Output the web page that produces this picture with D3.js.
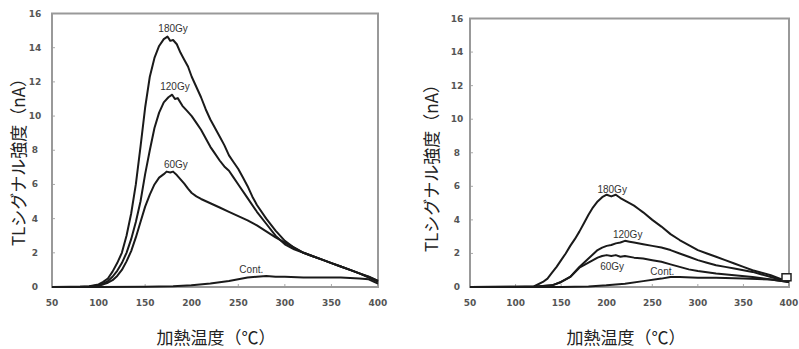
<!DOCTYPE html>
<html>
<head>
    <meta charset="utf-8">
    <title>TL glow curves</title>
    <style>
        body { margin: 0; background: #fff; }
        .tick-label { font-family: "DejaVu Sans", sans-serif; font-size: 9px; font-weight: bold; fill: #555; }
        .axis-title { font-family: "Noto Sans CJK JP", sans-serif; font-size: 17px; fill: #222; }
        .dose-label { font-family: "Liberation Sans", sans-serif; font-size: 10px; fill: #333; }
        .curve { fill: none; stroke: #1a1a1a; stroke-width: 2; stroke-linejoin: round; }
        .frame { fill: none; stroke: #999; stroke-width: 2; }
    </style>
</head>
<body>
    <div id="chart"></div>
    <script src="https://d3js.org/d3.v7.min.js"></script>
    <script>
        // tick labels shared by both panels
        const xTicks = [50, 100, 150, 200, 250, 300, 350, 400];
        const yTicks = [0, 2, 4, 6, 8, 10, 12, 14, 16];
        const xTitle = "加熱温度（℃）";
        const yTitle = "TLシグナル強度（nA）";

        // left panel series: [temperature, signal nA]
        const left180 = [[50,0],[80,0.02],[90,0.05],[100,0.15],[105,0.3],[110,0.5],[115,0.9],[120,1.4],[125,2.0],[130,3.0],[135,4.3],[140,6.0],[145,8.2],[150,10.5],[155,12.3],[160,13.4],[165,14.1],[170,14.5],[174,14.65],[177,14.4],[180,14.45],[184,14.2],[188,13.7],[192,13.3],[196,12.9],[200,12.3],[205,11.7],[210,11.1],[215,10.4],[220,9.8],[225,9.3],[230,8.8],[235,8.3],[240,7.7],[245,7.3],[250,6.9],[255,6.4],[260,5.9],[265,5.3],[270,4.8],[280,4.0],[290,3.3],[300,2.7],[310,2.3],[320,2.0],[330,1.8],[340,1.6],[350,1.4],[360,1.2],[370,1.0],[380,0.8],[390,0.6],[400,0.35]];
        const left120 = [[50,0],[90,0.03],[100,0.1],[105,0.2],[110,0.35],[115,0.6],[120,0.95],[125,1.4],[130,2.0],[135,2.8],[140,3.8],[145,5.0],[150,6.6],[155,8.0],[160,9.3],[165,10.2],[170,10.8],[175,11.1],[179,11.25],[182,11.0],[185,11.05],[190,10.6],[195,10.3],[200,10.0],[205,9.6],[210,9.2],[215,8.7],[220,8.2],[225,7.8],[230,7.4],[235,7.05],[240,6.8],[245,6.4],[250,6.0],[260,5.2],[270,4.4],[280,3.7],[290,3.0],[300,2.5],[310,2.2],[320,2.0],[330,1.8],[340,1.6],[350,1.4],[360,1.2],[370,1.0],[380,0.8],[390,0.55],[400,0.3]];
        const left60 = [[50,0],[90,0.02],[100,0.08],[105,0.15],[110,0.25],[115,0.4],[120,0.65],[125,1.0],[130,1.5],[135,2.1],[140,2.9],[145,3.8],[150,4.7],[155,5.4],[160,6.0],[165,6.4],[170,6.6],[173,6.75],[177,6.7],[180,6.75],[184,6.55],[188,6.3],[192,6.05],[196,5.75],[200,5.5],[205,5.3],[210,5.15],[220,4.9],[230,4.65],[240,4.4],[250,4.15],[260,3.9],[270,3.6],[280,3.25],[290,2.9],[300,2.6],[310,2.3],[320,2.0],[330,1.8],[340,1.6],[350,1.4],[360,1.2],[370,1.0],[380,0.8],[390,0.6],[400,0.35]];
        const leftCont = [[50,0],[100,0],[150,0.02],[180,0.05],[200,0.1],[220,0.2],[240,0.35],[250,0.45],[260,0.55],[270,0.6],[280,0.65],[290,0.6],[300,0.6],[320,0.55],[340,0.55],[360,0.55],[380,0.5],[390,0.45],[400,0.2]];

        // right panel series
        const right180 = [[50,0],[100,0],[120,0.03],[130,0.3],[135,0.5],[140,0.85],[145,1.2],[150,1.6],[155,2.0],[160,2.45],[165,2.85],[170,3.3],[175,3.8],[180,4.3],[185,4.75],[190,5.1],[195,5.35],[200,5.5],[205,5.4],[210,5.5],[215,5.3],[220,5.15],[225,5.0],[230,4.85],[235,4.65],[240,4.45],[250,4.0],[260,3.6],[270,3.15],[280,2.8],[290,2.5],[300,2.2],[310,2.0],[320,1.8],[330,1.6],[340,1.4],[350,1.2],[360,1.0],[370,0.85],[380,0.7],[390,0.5],[400,0.3]];
        const right120 = [[50,0],[120,0.02],[140,0.1],[150,0.3],[160,0.6],[170,1.2],[175,1.45],[180,1.7],[185,1.95],[190,2.2],[195,2.35],[200,2.45],[205,2.5],[210,2.6],[215,2.65],[220,2.75],[225,2.7],[230,2.65],[240,2.55],[250,2.45],[260,2.35],[270,2.2],[280,2.0],[290,1.8],[300,1.6],[310,1.45],[320,1.3],[330,1.2],[340,1.1],[350,1.0],[360,0.9],[370,0.75],[380,0.6],[390,0.45],[400,0.3]];
        const right60 = [[50,0],[120,0.02],[140,0.1],[150,0.3],[160,0.6],[170,1.15],[180,1.45],[185,1.6],[190,1.75],[195,1.85],[200,1.9],[205,1.85],[210,1.9],[215,1.8],[220,1.85],[230,1.75],[240,1.7],[250,1.6],[260,1.5],[270,1.35],[280,1.2],[290,1.05],[300,0.95],[320,0.8],[340,0.7],[360,0.6],[380,0.45],[400,0.3]];
        const rightCont = [[50,0],[150,0],[180,0.03],[200,0.1],[220,0.2],[240,0.35],[260,0.5],[270,0.6],[280,0.6],[300,0.55],[320,0.55],[350,0.5],[380,0.45],[400,0.3]];

        // curve labels: [text, temperature, signal]
        const leftLabels = [["180Gy",180,14.9],["120Gy",182,11.5],["60Gy",183,6.95],["Cont.",264,0.8]];
        const rightLabels = [["180Gy",206,5.6],["120Gy",223,2.9],["60Gy",206,1.0],["Cont.",261,0.7]];

        const svg = d3.select("#chart").append("svg")
            .attr("width", 799)
            .attr("height", 349);

        function drawPanel(p) {
            const x = d3.scaleLinear().domain([50, 400]).range([p.left, p.right]);
            const y = d3.scaleLinear().domain([0, 16]).range([p.bottom, p.top]);
            const g = svg.append("g");

            // small inside ticks
            g.selectAll(".yt").data(yTicks).enter().append("line")
                .attr("x1", p.left).attr("x2", p.left + 3)
                .attr("y1", d => y(d)).attr("y2", d => y(d))
                .attr("stroke", "#aaa");
            g.selectAll(".xt").data(xTicks).enter().append("line")
                .attr("x1", d => x(d)).attr("x2", d => x(d))
                .attr("y1", p.bottom).attr("y2", p.bottom - 3)
                .attr("stroke", "#aaa");

            g.append("rect").attr("class", "frame")
                .attr("x", p.left).attr("y", p.top)
                .attr("width", p.right - p.left).attr("height", p.bottom - p.top);

            g.selectAll(".ylab").data(yTicks).enter().append("text")
                .attr("class", "tick-label")
                .attr("x", p.left - p.yLabelGap).attr("y", d => y(d) + 3)
                .attr("text-anchor", "middle")
                .text(d => d);
            g.selectAll(".xlab").data(xTicks).enter().append("text")
                .attr("class", "tick-label")
                .attr("x", d => x(d)).attr("y", p.bottom + 19)
                .attr("text-anchor", "middle")
                .text(d => d);

            const line = d3.line().x(d => x(d[0])).y(d => y(d[1]));
            g.selectAll(".curve").data(p.series).enter().append("path")
                .attr("class", "curve")
                .attr("d", line);

            g.selectAll(".dose").data(p.labels).enter().append("text")
                .attr("class", "dose-label")
                .attr("x", d => x(d[1])).attr("y", d => y(d[2]))
                .attr("text-anchor", "middle")
                .text(d => d[0]);

            g.append("text").attr("class", "axis-title")
                .attr("x", p.xTitleX).attr("y", 344)
                .attr("text-anchor", "middle")
                .text(xTitle);
            g.append("text").attr("class", "axis-title")
                .attr("transform", "translate(" + p.yTitleX + "," + p.yTitleY + ") rotate(-90)")
                .attr("text-anchor", "middle")
                .text(yTitle);

            return { x, y, g };
        }

        drawPanel({
            left: 52, right: 378, top: 13.5, bottom: 287,
            yLabelGap: 17, yTitleX: 25, yTitleY: 158, xTitleX: 216,
            series: [left180, left120, left60, leftCont],
            labels: leftLabels
        });

        const r = drawPanel({
            left: 470, right: 789, top: 18.5, bottom: 287,
            yLabelGap: 13, yTitleX: 438, yTitleY: 164, xTitleX: 626,
            series: [right180, right120, right60, rightCont],
            labels: rightLabels
        });

        // little end marker box at 400 °C on the right panel
        r.g.append("rect")
            .attr("x", r.x(400) - 7).attr("y", r.y(0.55) - 4)
            .attr("width", 9).attr("height", 7)
            .attr("fill", "#fff").attr("stroke", "#222").attr("stroke-width", 1.5);
    </script>
</body>
</html>
